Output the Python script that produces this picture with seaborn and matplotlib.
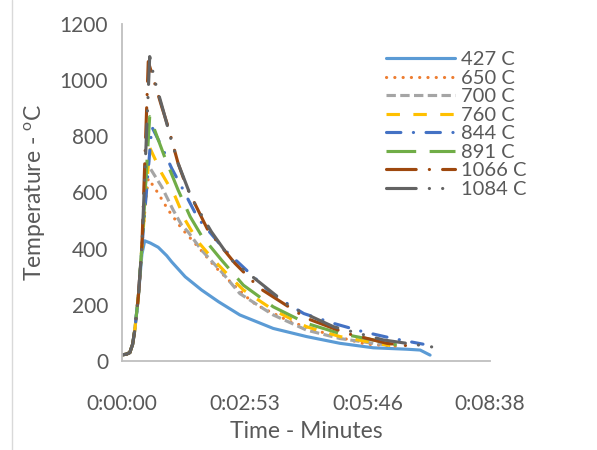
import pandas as pd
import matplotlib
matplotlib.use('Agg')
import matplotlib.pyplot as plt
import seaborn as sns
from matplotlib.ticker import FuncFormatter, FixedLocator
from matplotlib.lines import Line2D

# shared warm-up / rise segment (seconds, degC)
rise_t = [0, 6, 11, 15, 18, 23, 28]
rise_T = [22, 24, 30, 60, 110, 229, 407]

t_427 = [0, 6, 11, 15, 18, 23, 28, 32, 40, 51, 63, 70, 89, 112, 136, 166, 213, 260, 307, 354, 401, 420, 434]
T_427 = [22, 24, 30, 60, 110, 229, 380, 428, 420, 405, 375, 353, 300, 253, 211, 164, 116, 87, 63, 47, 42, 39, 21]

t_650 = rise_t + [33, 37, 51, 65, 84, 107, 131, 155, 175, 189, 237, 293, 344, 387, 390]
T_650 = rise_T + [560, 650, 597, 538, 472, 407, 336, 276, 229, 200, 140, 93, 60, 53, 50]

t_700 = rise_t + [35, 56, 72, 84, 93, 112, 140, 166, 213, 260, 307, 354, 373]
T_700 = rise_T + [705, 620, 538, 484, 460, 395, 318, 240, 164, 110, 80, 63, 57]

t_760 = rise_t + [39, 56, 75, 89, 107, 129, 152, 171, 213, 260, 307, 354, 378]
T_760 = rise_T + [760, 668, 585, 502, 425, 360, 300, 253, 182, 122, 87, 65, 55]

t_844 = rise_t + [42, 56, 70, 84, 107, 145, 213, 256, 298, 340, 382, 424]
T_844 = rise_T + [834, 763, 686, 620, 508, 395, 235, 169, 134, 104, 80, 60]

t_891 = rise_t + [39, 60, 79, 96, 112, 140, 171, 213, 260, 307, 354, 387]
T_891 = rise_T + [870, 727, 609, 514, 446, 360, 270, 193, 134, 98, 75, 57]

t_1066 = rise_t + [37, 56, 65, 79, 91, 121, 159, 194, 260, 317, 373, 400]
T_1066 = rise_T + [1066, 905, 834, 704, 620, 466, 348, 259, 152, 98, 63, 55]

t_1084 = rise_t + [39, 46, 58, 68, 79, 98, 126, 154, 166, 237, 298, 368, 434, 452]
T_1084 = rise_T + [1084, 1000, 893, 799, 704, 580, 460, 360, 336, 193, 122, 75, 51, 45]

labels = ['427 C', '650 C', '700 C', '760 C', '844 C', '891 C', '1066 C', '1084 C']
times = [t_427, t_650, t_700, t_760, t_844, t_891, t_1066, t_1084]
temps = [T_427, T_650, T_700, T_760, T_844, T_891, T_1066, T_1084]

colors = ['#5B9BD5', '#ED7D31', '#A5A5A5', '#FFC000', '#4472C4', '#70AD47', '#9E480E', '#636363']
# dash patterns in linewidth units (Excel-like)
dashes = [None, (0.05, 2.6), (3.0, 1.4), (4.3, 4.3), (4.6, 4.0, 0.05, 4.0),
          (9.5, 4.3), (9.5, 4.2, 0.05, 4.2), (9.5, 4.2, 0.05, 4.2, 0.05, 4.2)]
caps = ['round', 'round', 'butt', 'butt', 'round', 'butt', 'round', 'round']

sns.set_style('white')
plt.rcParams['font.family'] = ['Lato', 'DejaVu Sans']

fig = plt.figure(figsize=(5.97, 4.5), dpi=100)
ax = fig.add_axes([122 / 597, 1 - 361 / 450, (490 - 122) / 597, (361 - 24) / 450])

handles = []
for lab, t, T, c, d, cap in zip(labels, times, temps, colors, dashes, caps):
    df = pd.DataFrame({'t': t, 'T': T})
    sns.lineplot(data=df, x='t', y='T', ax=ax, color=c, linewidth=2.25,
                 estimator=None, sort=False, legend=False)
    ln = ax.lines[-1]
    if d is not None:
        ln.set_dashes(d)
    ln.set_dash_capstyle(cap)
    ln.set_solid_capstyle('round')
    h = Line2D([], [], color=c, linewidth=2.25)
    if d is not None:
        h.set_dashes(d)
    h.set_dash_capstyle(cap)
    h.set_solid_capstyle('round')
    handles.append(h)

ax.set_xlim(0, 518.4)
ax.set_ylim(0, 1200)
ax.xaxis.set_major_locator(FixedLocator([0, 172.8, 345.6, 518.4]))
ax.set_yticks(range(0, 1201, 200))


def hms(x, pos):
    s = int(round(x))
    return '%d:%02d:%02d' % (s // 3600, (s % 3600) // 60, s % 60)


ax.xaxis.set_major_formatter(FuncFormatter(hms))
ax.tick_params(axis='both', length=0, labelsize=15, labelcolor='#595959')
ax.tick_params(axis='x', pad=24)
ax.tick_params(axis='y', pad=10)

for side in ['top', 'right']:
    ax.spines[side].set_visible(False)
for side in ['left', 'bottom']:
    ax.spines[side].set_color('#BFBFBF')
    ax.spines[side].set_linewidth(1.3)

ax.set_xlabel('Time - Minutes', fontsize=16.5, color='#595959', labelpad=5)
ax.set_ylabel('Temperature - $^{\\mathregular{o}}$C', fontsize=16.5, color='#595959', labelpad=8)

ax.legend(handles, labels, loc='upper left', bbox_to_anchor=(378 / 597, 1 - 43 / 450),
          bbox_transform=fig.transFigure, frameon=False, fontsize=14.5,
          labelcolor='#595959', handlelength=3.4, handletextpad=0.3,
          labelspacing=0.07, borderaxespad=0)

fig.add_artist(Line2D([12 / 597, 12 / 597], [0, 1], transform=fig.transFigure,
                      color='#D9D9D9', linewidth=1))

fig.savefig('out.png', dpi=100)
